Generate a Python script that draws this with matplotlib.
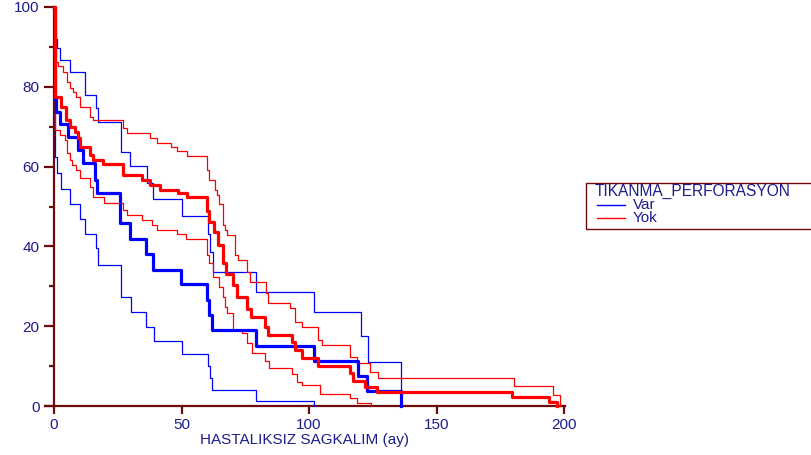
import matplotlib.pyplot as plt
from matplotlib.patches import Rectangle
from matplotlib.lines import Line2D

plt.rcParams['font.family'] = ['Liberation Sans', 'DejaVu Sans']

# Kaplan-Meier estimates (month, survival %)
var_t = [0, 0.3, 0.8, 2.4, 5.6, 9.5, 11.5, 16.1, 16.7, 25.9, 29.8, 36.0, 38.9,
         49.8, 59.9, 60.9, 61.8, 79.2, 102.0, 119.3, 122.6, 136.1]
var_s = [100, 77.0, 73.8, 70.8, 67.5, 64.2, 60.8, 56.6, 53.3, 45.8, 41.9, 38.0, 34.2,
         30.5, 26.6, 22.8, 19.0, 15.1, 11.3, 7.6, 3.8, 0]

var_hi_t = [0, 0.5, 1.2, 2.4, 6.3, 12.2, 16.3, 17.4, 26.3, 29.8, 36.3, 38.9, 50.3,
            60.3, 61.0, 62.2, 79.2, 102.0, 120.3, 123.3, 136.1]
var_hi_s = [100, 91.9, 89.6, 86.7, 83.7, 78.0, 74.6, 71.3, 63.7, 60.2, 55.8, 52.0, 47.6,
            43.1, 38.5, 33.7, 28.6, 23.6, 17.5, 11.0, 0]

var_lo_t = [0, 0.5, 1.0, 2.7, 6.3, 10.2, 12.2, 16.3, 17.1, 26.1, 30.1, 36.1, 39.2,
            50.3, 60.2, 61.2, 62.1, 79.2, 102.0]
var_lo_s = [100, 62.5, 58.5, 54.5, 50.6, 46.8, 43.2, 39.5, 35.3, 27.2, 23.6, 19.9, 16.4,
            13.0, 9.9, 7.1, 4.0, 1.25, 0]

yok_t = [0, 0.5, 2.6, 4.6, 6.3, 8.2, 9.5, 10.2, 14.1, 15.4, 19.3, 27.2, 34.4, 37.6,
         41.6, 48.7, 52.0, 60.1, 60.9, 62.9, 64.4, 66.4, 67.5, 70.3, 71.6, 75.6, 77.3,
         82.7, 83.8, 93.2, 94.5, 97.1, 103.6, 116.0, 117.4, 122.0, 126.5, 179.5, 194.2,
         197.4]
yok_s = [100, 77.5, 75.0, 71.7, 70.0, 68.7, 67.1, 65.0, 62.9, 61.7, 60.6, 57.9, 56.6,
         55.4, 54.1, 53.3, 52.3, 48.8, 46.2, 43.7, 40.4, 35.8, 33.2, 30.3, 27.4, 24.3,
         22.4, 19.9, 17.8, 16.1, 14.0, 12.0, 9.9, 8.2, 6.3, 4.8, 3.4, 2.2, 0.9, 0]

yok_hi_t = [0, 0.5, 1.7, 3.7, 5.2, 6.3, 7.6, 8.6, 10.2, 14.1, 15.4, 27.2, 28.5, 37.6,
            40.3, 46.0, 48.4, 52.0, 60.0, 60.9, 63.2, 64.0, 64.8, 66.3, 67.1, 68.0,
            71.0, 72.0, 75.5, 77.0, 83.1, 84.0, 92.5, 94.5, 97.1, 103.6, 105.0, 116.0,
            118.7, 123.9, 127.2, 180.5, 195.5, 198.5]
yok_hi_s = [100, 86.3, 85.3, 83.8, 81.3, 79.6, 78.8, 77.5, 75.0, 72.5, 71.7, 69.6, 68.3,
            67.1, 66.0, 65.0, 63.9, 62.7, 59.1, 56.6, 54.1, 52.9, 50.6, 45.4, 44.1, 42.9,
            37.8, 36.6, 33.7, 31.2, 28.2, 25.9, 24.5, 21.1, 19.9, 16.5, 15.3, 12.4, 10.7,
            8.6, 7.0, 5.0, 2.8, 0]

yok_lo_t = [0, 0.5, 2.4, 4.3, 5.2, 6.3, 7.2, 8.6, 10.2, 14.1, 15.4, 19.5, 27.2, 28.5,
            34.4, 38.3, 40.3, 48.1, 51.8, 59.9, 60.9, 62.5, 64.8, 66.1, 67.1, 67.7,
            70.3, 73.6, 75.6, 77.5, 82.7, 84.3, 93.2, 95.2, 97.1, 104.3, 116.1, 118.7,
            124.4]
yok_lo_s = [100, 69.2, 67.9, 66.7, 63.3, 61.7, 60.4, 59.1, 57.1, 55.0, 52.5, 50.8, 49.1,
            47.9, 46.6, 45.4, 44.1, 43.0, 41.8, 37.8, 35.8, 32.4, 29.9, 27.4, 24.9, 23.2,
            19.0, 18.2, 15.7, 13.4, 11.4, 9.4, 8.0, 6.1, 5.3, 3.1, 1.9, 0.7, 0]

group_title = "TIKANMA_PERFORASYON"
group_names = ["Var", "Yok"]
x_ticks = [0, 50, 100, 150, 200]
y_ticks = [0, 20, 40, 60, 80, 100]

BLUE = "#0000ff"
RED = "#ff0000"
AXIS = "#6e0a0a"
LABEL = "#1c1c8c"

fig = plt.figure(figsize=(8.11, 4.55), dpi=100)
ax = fig.add_axes([45.1 / 811, 49 / 455, 519.7 / 811, 399 / 455])

for t, s, c in [(var_hi_t, var_hi_s, BLUE), (var_lo_t, var_lo_s, BLUE),
                (yok_hi_t, yok_hi_s, RED), (yok_lo_t, yok_lo_s, RED)]:
    ax.step(t, s, where="post", color=c, lw=0.9, clip_on=False, zorder=2)

ax.step(var_t, var_s, where="post", color=BLUE, lw=2.3, clip_on=False, zorder=3)
ax.step(yok_t, yok_s, where="post", color=RED, lw=2.3, clip_on=False, zorder=4)

ax.set_xlim(-3.5, 200.3)
ax.set_ylim(0, 100)
ax.spines["left"].set_position(("data", 0))
ax.spines["top"].set_visible(False)
ax.spines["right"].set_visible(False)
for side in ["left", "bottom"]:
    ax.spines[side].set_color(AXIS)
    ax.spines[side].set_linewidth(1.6)
    ax.spines[side].set_zorder(1)

ax.set_xticks(x_ticks)
ax.set_yticks(y_ticks)
ax.set_yticks([10, 30, 50, 70, 90], minor=True)
ax.tick_params(axis="both", which="major", color=AXIS, width=1.6,
               labelcolor=LABEL, labelsize=11)
ax.tick_params(axis="y", which="major", length=7.5, pad=3)
ax.tick_params(axis="y", which="minor", length=3.8, width=1.6, color=AXIS)
ax.tick_params(axis="x", which="major", length=5.5, pad=3)
ax.set_xlabel("HASTALIKSIZ SAGKALIM (ay)", color=LABEL, fontsize=11, labelpad=1)

# legend box, partly cut by the right edge as in the source
fig.patches.append(Rectangle((586 / 811, 1 - 229 / 455), 240 / 811, 46 / 455,
                             transform=fig.transFigure, facecolor="white",
                             edgecolor=AXIS, lw=1.0))
fig.text(595 / 811, 1 - 191 / 455, group_title, color=LABEL, fontsize=11.2,
         va="center", ha="left")
for i, (name, c) in enumerate(zip(group_names, [BLUE, RED])):
    yy = 1 - (205 + 13 * i) / 455
    fig.add_artist(Line2D([597 / 811, 625 / 811], [yy, yy], color=c, lw=1.0,
                          transform=fig.transFigure))
    fig.text(633 / 811, yy, name, color=LABEL, fontsize=11, va="center", ha="left")

fig.savefig("out.png", dpi=100)
